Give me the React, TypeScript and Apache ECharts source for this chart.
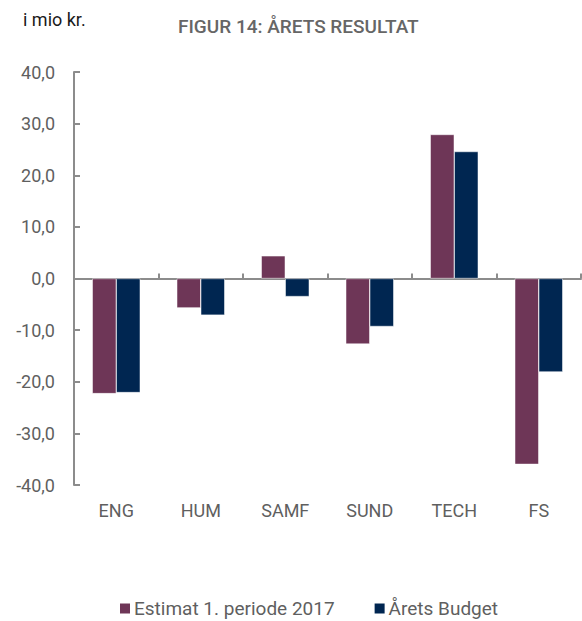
import React, { useEffect, useRef } from "react";
import * as echarts from "echarts";

const categories = ["ENG", "HUM", "SAMF", "SUND", "TECH", "FS"];
const estimat = [-22.3, -5.7, 4.4, -12.7, 27.9, -36.0];
const budget = [-22.1, -7.1, -3.5, -9.3, 24.6, -18.1];
const seriesNames = ["Estimat 1. periode 2017", "Årets Budget"];
const yTicks = { min: -40, max: 40, interval: 10 };

const FONT = "Roboto";
const GRAY = "#5f5f5f";
const AXIS = "#8c8c8c";

export default function App() {
  const ref = useRef<HTMLDivElement>(null);
  useEffect(() => {
    if (!ref.current) return;
    const chart = echarts.init(ref.current, null, { renderer: "svg" });
    chart.setOption({
      animation: false,
      textStyle: { fontFamily: FONT },
      graphic: [
        {
          type: "text",
          left: 23,
          top: 10,
          style: { text: "i mio kr.", fill: "#1a1a1a", font: `18px ${FONT}` },
        },
        {
          type: "text",
          left: 178,
          top: 17,
          style: {
            text: "FIGUR 14: ÅRETS RESULTAT",
            fill: "#666666",
            font: `500 19px ${FONT}`,
          },
        },
      ],
      legend: {
        left: 113,
        top: 594,
        itemWidth: 12,
        itemHeight: 12,
        itemGap: 38,
        icon: "rect",
        textStyle: { color: GRAY, fontSize: 19, fontFamily: FONT, padding: [0, 0, 0, -2] },
        data: seriesNames,
      },
      grid: { left: 74, right: 1, top: 72, bottom: 136, containLabel: false },
      xAxis: [
        {
          type: "category",
          data: categories,
          position: "bottom",
          axisLine: { show: false, onZero: false },
          axisTick: { show: false },
          axisLabel: { color: GRAY, fontSize: 18, margin: 16, fontFamily: FONT },
        },
        {
          type: "category",
          data: categories,
          position: "top",
          axisLine: { show: true, onZero: true, lineStyle: { color: AXIS, width: 2 } },
          axisTick: { show: true, inside: false, length: 5, lineStyle: { color: AXIS, width: 2 } },
          axisLabel: { show: false },
        },
      ],
      yAxis: {
        type: "value",
        min: yTicks.min,
        max: yTicks.max,
        interval: yTicks.interval,
        axisLine: { show: true, onZero: false, lineStyle: { color: AXIS, width: 2 } },
        axisTick: { show: true, inside: true, length: 6, lineStyle: { color: AXIS, width: 2 } },
        splitLine: { show: false },
        axisLabel: {
          color: GRAY,
          fontSize: 18,
          margin: 19,
          fontFamily: FONT,
          formatter: (v: number) => v.toFixed(1).replace(".", ","),
        },
      },
      series: [
        {
          name: seriesNames[0],
          type: "bar",
          data: estimat,
          barWidth: 24,
          barGap: "0%",
          itemStyle: { color: "#6e3657", borderColor: "#ffffff", borderWidth: 0.5 },
        },
        {
          name: seriesNames[1],
          type: "bar",
          data: budget,
          barWidth: 24,
          barGap: "0%",
          itemStyle: { color: "#002651", borderColor: "#ffffff", borderWidth: 0.5 },
        },
      ],
    });
    return () => chart.dispose();
  }, []);
  return <div ref={ref} style={{ width: 582, height: 621, position: "absolute", left: 0, top: 0 }} />;
}
